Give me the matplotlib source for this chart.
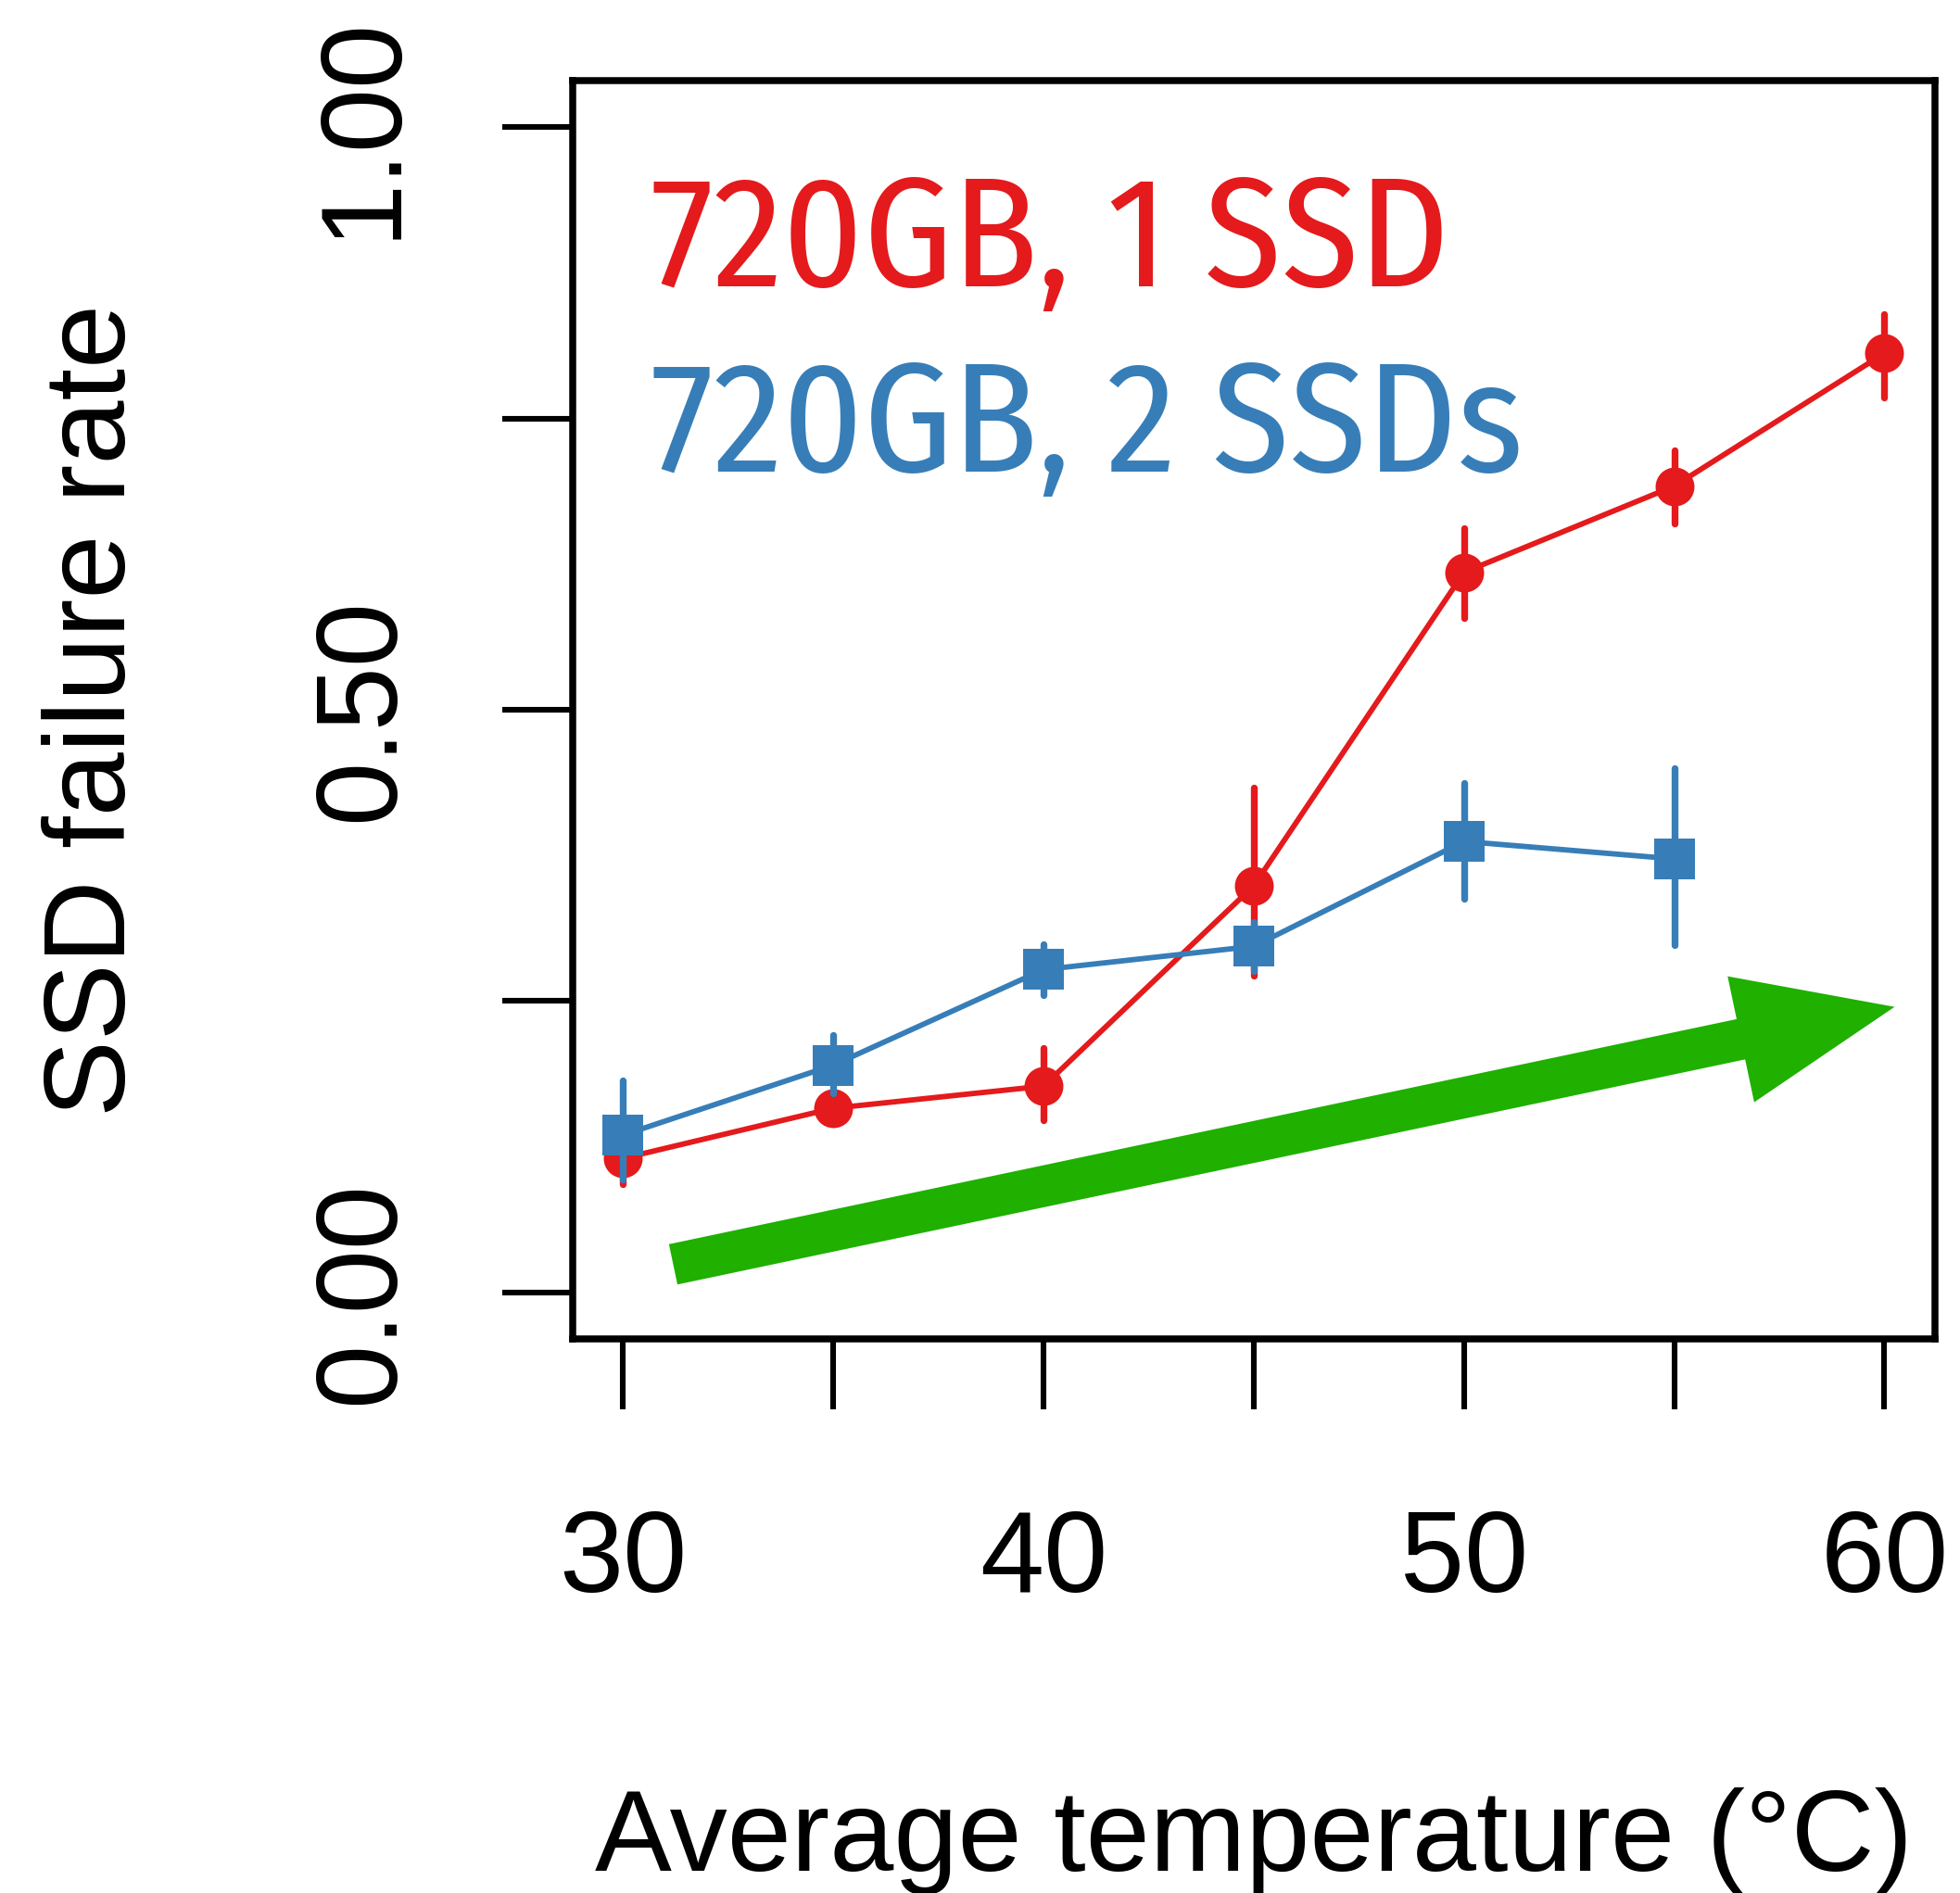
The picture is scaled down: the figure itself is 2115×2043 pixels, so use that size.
import matplotlib
matplotlib.use("Agg")
import matplotlib.pyplot as plt
from matplotlib.patches import FancyArrowPatch, ArrowStyle

# ---- data -------------------------------------------------------------
temperature = [30, 35, 40, 45, 50, 55, 60]

one_ssd_rate = [0.115, 0.158, 0.177, 0.349, 0.618, 0.692, 0.806]
one_ssd_low = [0.093, 0.146, 0.148, 0.272, 0.579, 0.660, 0.768]
one_ssd_high = [0.137, 0.170, 0.210, 0.433, 0.656, 0.723, 0.840]

two_ssd_temp = [30, 35, 40, 45, 50, 55]
two_ssd_rate = [0.135, 0.195, 0.277, 0.297, 0.387, 0.372]
two_ssd_low = [0.097, 0.171, 0.255, 0.276, 0.338, 0.298]
two_ssd_high = [0.182, 0.221, 0.299, 0.318, 0.437, 0.450]

series_labels = ["720GB, 1 SSD", "720GB, 2 SSDs"]

x_ticks = [30, 35, 40, 45, 50, 55, 60]
x_tick_labels = ["30", "", "40", "", "50", "", "60"]
y_ticks = [0.0, 0.25, 0.50, 0.75, 1.00]
y_tick_labels = ["0.00", "", "0.50", "", "1.00"]

trend_start = (31.19, 0.024)
trend_end = (60.24, 0.245)

# ---- style ------------------------------------------------------------
RED = "#E41A1C"
BLUE = "#377EB8"
GREEN = "#1FB000"

plt.rcParams["font.family"] = ["Liberation Sans", "DejaVu Sans"]
legend_family = ["Fira Sans Condensed", "Open Sans Condensed Light",
                 "PT Sans Narrow", "Sofia Sans Condensed", "Archivo Narrow",
                 "DejaVu Sans"]

fig = plt.figure(figsize=(21.15, 20.43), dpi=100)
ax = fig.add_axes([0.2922, 0.2927, 0.6950, 0.6647])

ax.set_xlim(28.8, 61.2)
ax.set_ylim(-0.04, 1.04)

# trend arrow
arrow = FancyArrowPatch(
    trend_start, trend_end,
    arrowstyle=ArrowStyle.Simple(head_length=122, head_width=100, tail_width=32),
    mutation_scale=1, shrinkA=0, shrinkB=0,
    facecolor=GREEN, edgecolor="none", zorder=1,
)
ax.add_patch(arrow)


def draw_series(x, y, lo, hi, color, marker, size):
    ax.vlines(x, lo, hi, colors=color, linewidth=5.3, capstyle="round", zorder=3)
    ax.plot(x, y, color=color, linewidth=4.2, zorder=3)
    ax.plot(x, y, linestyle="none", marker=marker, markersize=size,
            markerfacecolor=color, markeredgewidth=0, zorder=3)


draw_series(temperature, one_ssd_rate, one_ssd_low, one_ssd_high, RED, "o", 30.2)
draw_series(two_ssd_temp, two_ssd_rate, two_ssd_low, two_ssd_high, BLUE, "s", 31)

# legend as coloured text
ax.text(30.66, 0.8634, series_labels[0], color=RED, fontsize=121, weight="normal",
        family=legend_family, ha="left", va="baseline")
ax.text(30.66, 0.7044, series_labels[1], color=BLUE, fontsize=121, weight="normal",
        family=legend_family, ha="left", va="baseline")

# axes frame and ticks
for sp in ax.spines.values():
    sp.set_linewidth(5.4)

ax.set_xticks(x_ticks)
ax.set_xticklabels(x_tick_labels)
ax.set_yticks(y_ticks)
ax.set_yticklabels(y_tick_labels, rotation=90, va="center")
ax.tick_params(axis="both", direction="out", length=54.7, width=4.4,
               labelsize=89.5, color="black")
ax.tick_params(axis="x", pad=77)
ax.tick_params(axis="y", pad=66)

ax.set_xlabel("Average temperature (\u00b0C)", fontsize=89.5)
ax.xaxis.label.set_va("baseline")
ax.xaxis.set_label_coords(0.5, -0.4227)

ax.set_ylabel("SSD failure rate", fontsize=89.5)
ax.yaxis.label.set_va("baseline")
ax.yaxis.set_label_coords(-0.3286, 0.5)

fig.savefig("out.png", dpi=100)
